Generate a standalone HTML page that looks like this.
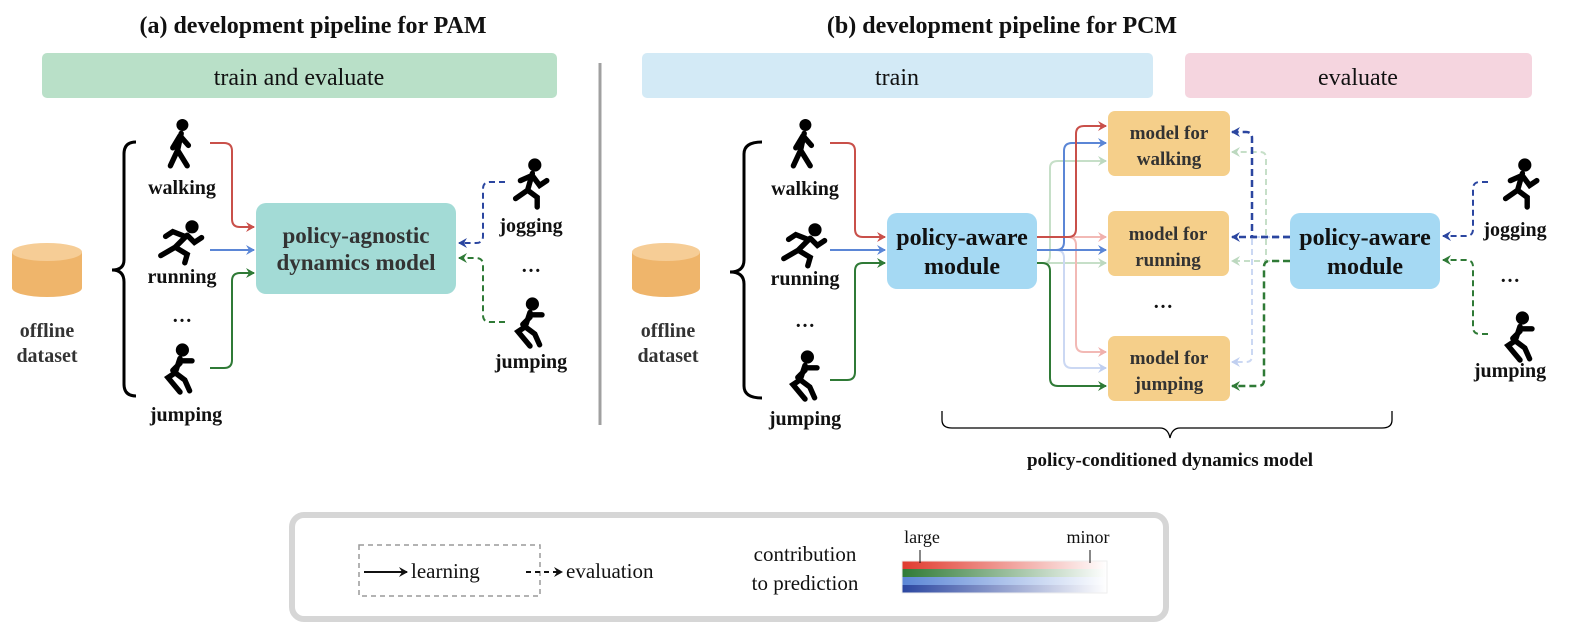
<!DOCTYPE html>
<html><head><meta charset="utf-8"><style>
html,body{margin:0;padding:0;background:#fff;}
svg{display:block;}
.t{font-family:"Liberation Serif",serif;font-weight:bold;fill:#111;}
.s{font-family:"Liberation Serif",serif;fill:#111;}
</style></head><body>
<svg width="1576" height="638" viewBox="0 0 1576 638" xmlns="http://www.w3.org/2000/svg">
<defs>
<marker id="ar" markerWidth="10" markerHeight="10" refX="8" refY="5" orient="auto" markerUnits="userSpaceOnUse"><path d="M0,0 L9,5 L0,10 L3,5z" fill="#c9504a"/></marker>
<marker id="ab" markerWidth="10" markerHeight="10" refX="8" refY="5" orient="auto" markerUnits="userSpaceOnUse"><path d="M0,0 L9,5 L0,10 L3,5z" fill="#5b86d6"/></marker>
<marker id="ag" markerWidth="10" markerHeight="10" refX="8" refY="5" orient="auto" markerUnits="userSpaceOnUse"><path d="M0,0 L9,5 L0,10 L3,5z" fill="#2f7a36"/></marker>
<marker id="adb" markerWidth="10" markerHeight="10" refX="8" refY="5" orient="auto" markerUnits="userSpaceOnUse"><path d="M0,0 L9,5 L0,10 L3,5z" fill="#2b46a0"/></marker>
<marker id="apr" markerWidth="10" markerHeight="10" refX="8" refY="5" orient="auto" markerUnits="userSpaceOnUse"><path d="M0,0 L9,5 L0,10 L3,5z" fill="#f0b0ac"/></marker>
<marker id="apb" markerWidth="10" markerHeight="10" refX="8" refY="5" orient="auto" markerUnits="userSpaceOnUse"><path d="M0,0 L9,5 L0,10 L3,5z" fill="#c0cff0"/></marker>
<marker id="apg" markerWidth="10" markerHeight="10" refX="8" refY="5" orient="auto" markerUnits="userSpaceOnUse"><path d="M0,0 L9,5 L0,10 L3,5z" fill="#bcd8bf"/></marker>
<marker id="ak" markerWidth="10" markerHeight="10" refX="8" refY="5" orient="auto" markerUnits="userSpaceOnUse"><path d="M0,0 L9,5 L0,10 L3,5z" fill="#111"/></marker>
<g id="walk" stroke="#000" stroke-width="4.5" stroke-linecap="round" fill="none" transform="scale(1.2)"><circle cx="2" cy="-15" r="5" fill="#000" stroke="none"/><path d="M1,-8 L-2,6 L-8,19 M-2,6 L6,19 M0,-6 L-6,4 M0,-6 L7,2"/></g>
<g id="run" stroke="#000" stroke-width="4.5" stroke-linecap="round" fill="none" transform="scale(1.2)"><circle cx="10" cy="-11" r="5.5" fill="#000" stroke="none"/><path d="M6,-4 L-4,6 L-16,13 M-4,6 L6,12 L4,19 M4,-3 L-6,-7 L-12,-3 M6,-4 L12,2 L18,-2"/></g>
<g id="jog" stroke="#000" stroke-width="4.5" stroke-linecap="round" fill="none" transform="scale(1.2)"><circle cx="4" cy="-15" r="5.5" fill="#000" stroke="none"/><path d="M2,-8 L-2,6 L-12,13 M-2,6 L6,12 L6,20 M1,-6 L-8,-2 M2,-6 L8,2 L14,-2"/></g>
<g id="jump" stroke="#000" stroke-width="4.5" stroke-linecap="round" fill="none" transform="scale(1.2)"><circle cx="2" cy="-15" r="5.5" fill="#000" stroke="none"/><path d="M0,-8 L-4,4 L-10,8 L0,20 M-4,4 L4,10 L8,19 M0,-6 L10,-6 M0,-4 L-6,2"/></g>
</defs>

<text class="t" x="313" y="33" font-size="24" text-anchor="middle">(a) development pipeline for PAM</text>
<text class="t" x="1002" y="33" font-size="24" text-anchor="middle">(b) development pipeline for PCM</text>

<rect x="42" y="53" width="515" height="45" rx="5" fill="#b9e0c8"/>
<text class="s" x="299" y="85" font-size="24" text-anchor="middle">train and evaluate</text>
<rect x="642" y="53" width="511" height="45" rx="5" fill="#d3eaf6"/>
<text class="s" x="897" y="85" font-size="24" text-anchor="middle">train</text>
<rect x="1185" y="53" width="347" height="45" rx="5" fill="#f5d5df"/>
<text class="s" x="1358" y="85" font-size="24" text-anchor="middle">evaluate</text>

<line x1="600" y1="63" x2="600" y2="425" stroke="#a0a0a0" stroke-width="3"/>

<!-- (a) -->
<g>
<path d="M12,252 L12,288 A35,9 0 0 0 82,288 L82,252z" fill="#efb56b"/>
<ellipse cx="47" cy="252" rx="35" ry="9" fill="#f6cd96"/>
<text class="t" x="47" y="337" font-size="20" text-anchor="middle" style="fill:#333">offline</text>
<text class="t" x="47" y="362" font-size="20" text-anchor="middle" style="fill:#333">dataset</text>
<path d="M136,142 Q124,142 124,154 L124,260 Q124,270 112,270 Q124,270 124,282 L124,384 Q124,396 136,396" fill="none" stroke="#000" stroke-width="3"/>
<use href="#walk" x="180" y="143"/>
<text class="t" x="182" y="194" font-size="20" text-anchor="middle">walking</text>
<use href="#run" x="180" y="240"/>
<text class="t" x="182" y="283" font-size="20" text-anchor="middle">running</text>
<text class="t" x="182" y="322" font-size="20" text-anchor="middle">…</text>
<use href="#jump" x="180" y="368"/>
<text class="t" x="186" y="421" font-size="20" text-anchor="middle">jumping</text>
<path d="M210,143 L224,143 Q232,143 232,151 L232,219 Q232,227 240,227 L254,227" fill="none" stroke="#c9504a" stroke-width="2" marker-end="url(#ar)"/>
<path d="M210,250 L254,250" fill="none" stroke="#5b86d6" stroke-width="2" marker-end="url(#ab)"/>
<path d="M210,368 L224,368 Q232,368 232,360 L232,281 Q232,273 240,273 L254,273" fill="none" stroke="#2f7a36" stroke-width="2" marker-end="url(#ag)"/>
<rect x="256" y="203" width="200" height="91" rx="10" fill="#a3dbd6"/>
<text class="t" x="356" y="243" font-size="23" text-anchor="middle" style="fill:#333">policy-agnostic</text>
<text class="t" x="356" y="270" font-size="23" text-anchor="middle" style="fill:#333">dynamics model</text>
<use href="#jog" x="530" y="183"/>
<text class="t" x="531" y="232" font-size="20" text-anchor="middle">jogging</text>
<text class="t" x="531" y="272" font-size="20" text-anchor="middle">…</text>
<use href="#jump" x="530" y="322"/>
<text class="t" x="531" y="368" font-size="20" text-anchor="middle">jumping</text>
<path d="M505,182 L490,182 Q483,182 483,189 L483,236 Q483,243 476,243 L459,243" fill="none" stroke="#2b46a0" stroke-width="2" stroke-dasharray="6,4" marker-end="url(#adb)"/>
<path d="M505,322 L490,322 Q483,322 483,315 L483,265 Q483,258 476,258 L459,258" fill="none" stroke="#2f7a36" stroke-width="2" stroke-dasharray="6,4" marker-end="url(#ag)"/>
</g>

<!-- (b) -->
<g>
<path d="M632,252 L632,288 A34,9 0 0 0 700,288 L700,252z" fill="#efb56b"/>
<ellipse cx="666" cy="252" rx="34" ry="9" fill="#f6cd96"/>
<text class="t" x="668" y="337" font-size="20" text-anchor="middle" style="fill:#333">offline</text>
<text class="t" x="668" y="362" font-size="20" text-anchor="middle" style="fill:#333">dataset</text>
<path d="M762,142 Q744,142 744,154 L744,260 Q744,272 730,272 Q744,272 744,284 L744,386 Q744,398 762,398" fill="none" stroke="#000" stroke-width="3"/>
<use href="#walk" x="803" y="143"/>
<text class="t" x="805" y="195" font-size="20" text-anchor="middle">walking</text>
<use href="#run" x="803" y="243"/>
<text class="t" x="805" y="285" font-size="20" text-anchor="middle">running</text>
<text class="t" x="805" y="327" font-size="20" text-anchor="middle">…</text>
<use href="#jump" x="805" y="375"/>
<text class="t" x="805" y="425" font-size="20" text-anchor="middle">jumping</text>
<path d="M830,143 L847,143 Q855,143 855,151 L855,229 Q855,237 863,237 L885,237" fill="none" stroke="#c9504a" stroke-width="2" marker-end="url(#ar)"/>
<path d="M830,250 L885,250" fill="none" stroke="#5b86d6" stroke-width="2" marker-end="url(#ab)"/>
<path d="M830,380 L847,380 Q855,380 855,372 L855,271 Q855,263 863,263 L885,263" fill="none" stroke="#2f7a36" stroke-width="2" marker-end="url(#ag)"/>

<!-- pale fan-out -->
<path d="M1037,263 L1044,263 Q1050,263 1050,255 L1050,168 Q1050,161 1058,161 L1106,161" fill="none" stroke="#c6dfc8" stroke-width="2" marker-end="url(#apg)"/>
<path d="M1037,263 L1106,263" fill="none" stroke="#c6dfc8" stroke-width="2" marker-end="url(#apg)"/>
<path d="M1037,250 L1056,250 Q1064,250 1064,258 L1064,360 Q1064,368 1072,368 L1106,368" fill="none" stroke="#cbd8f3" stroke-width="2" marker-end="url(#apb)"/>
<path d="M1037,237 L1068,237 Q1076,237 1076,245 L1076,344 Q1076,352 1084,352 L1106,352" fill="none" stroke="#f2b9b5" stroke-width="2" marker-end="url(#apr)"/>
<path d="M1037,237 L1106,237" fill="none" stroke="#f2b9b5" stroke-width="2" marker-end="url(#apr)"/>
<!-- strong -->
<path d="M1037,250 L1056,250 Q1064,250 1064,242 L1064,151 Q1064,143 1072,143 L1106,143" fill="none" stroke="#5b86d6" stroke-width="2" marker-end="url(#ab)"/>
<path d="M1037,250 L1106,250" fill="none" stroke="#5b86d6" stroke-width="2" marker-end="url(#ab)"/>
<path d="M1037,237 L1068,237 Q1076,237 1076,229 L1076,134 Q1076,126 1084,126 L1106,126" fill="none" stroke="#c9504a" stroke-width="2" marker-end="url(#ar)"/>
<path d="M1037,263 L1042,263 Q1050,263 1050,271 L1050,378 Q1050,386 1058,386 L1106,386" fill="none" stroke="#2f7a36" stroke-width="2" marker-end="url(#ag)"/>

<rect x="887" y="213" width="150" height="76" rx="10" fill="#a5d9f3"/>
<text class="t" x="962" y="245" font-size="24" text-anchor="middle">policy-aware</text>
<text class="t" x="962" y="274" font-size="24" text-anchor="middle">module</text>

<rect x="1108" y="111" width="122" height="65" rx="7" fill="#f5cf8a"/>
<text class="t" x="1169" y="139" font-size="19" text-anchor="middle" style="fill:#333">model for</text>
<text class="t" x="1169" y="165" font-size="19" text-anchor="middle" style="fill:#333">walking</text>
<rect x="1108" y="211" width="121" height="65" rx="7" fill="#f5cf8a"/>
<text class="t" x="1168" y="240" font-size="19" text-anchor="middle" style="fill:#333">model for</text>
<text class="t" x="1168" y="266" font-size="19" text-anchor="middle" style="fill:#333">running</text>
<text class="t" x="1163" y="308" font-size="20" text-anchor="middle">…</text>
<rect x="1108" y="336" width="122" height="65" rx="7" fill="#f5cf8a"/>
<text class="t" x="1169" y="364" font-size="19" text-anchor="middle" style="fill:#333">model for</text>
<text class="t" x="1169" y="390" font-size="19" text-anchor="middle" style="fill:#333">jumping</text>

<!-- dashed eval -->
<path d="M1290,261 L1266,261 L1266,158 Q1266,152 1260,152 L1232,152" fill="none" stroke="#c6dfc8" stroke-width="2" stroke-dasharray="6,4" marker-end="url(#apg)"/>
<path d="M1290,261 L1232,261" fill="none" stroke="#c6dfc8" stroke-width="2" stroke-dasharray="6,4" marker-end="url(#apg)"/>
<path d="M1290,237 L1252,237 L1252,356 Q1252,362 1246,362 L1232,362" fill="none" stroke="#cbd8f3" stroke-width="2" stroke-dasharray="6,4" marker-end="url(#apb)"/>
<path d="M1290,237 L1232,237" fill="none" stroke="#2b46a0" stroke-width="2.5" stroke-dasharray="7,4" marker-end="url(#adb)"/>
<path d="M1290,237 L1252,237 L1252,138 Q1252,132 1246,132 L1232,132" fill="none" stroke="#2b46a0" stroke-width="2.5" stroke-dasharray="7,4" marker-end="url(#adb)"/>
<path d="M1290,261 L1270,261 Q1264,261 1264,267 L1264,380 Q1264,386 1258,386 L1232,386" fill="none" stroke="#2f7a36" stroke-width="2.5" stroke-dasharray="7,4" marker-end="url(#ag)"/>

<rect x="1290" y="213" width="150" height="76" rx="10" fill="#a5d9f3"/>
<text class="t" x="1365" y="245" font-size="24" text-anchor="middle">policy-aware</text>
<text class="t" x="1365" y="274" font-size="24" text-anchor="middle">module</text>

<use href="#jog" x="1520" y="183"/>
<text class="t" x="1515" y="236" font-size="20" text-anchor="middle">jogging</text>
<text class="t" x="1510" y="282" font-size="20" text-anchor="middle">…</text>
<use href="#jump" x="1520" y="336"/>
<text class="t" x="1510" y="377" font-size="20" text-anchor="middle">jumping</text>
<path d="M1488,182 L1480,182 Q1473,182 1473,189 L1473,229 Q1473,236 1466,236 L1443,236" fill="none" stroke="#2b46a0" stroke-width="2" stroke-dasharray="6,4" marker-end="url(#adb)"/>
<path d="M1488,334 L1480,334 Q1473,334 1473,327 L1473,267 Q1473,260 1466,260 L1443,260" fill="none" stroke="#2f7a36" stroke-width="2" stroke-dasharray="6,4" marker-end="url(#ag)"/>

<path d="M942,411 L942,420 Q942,428 952,428 L1160,428 Q1168,428 1170,438 Q1172,428 1180,428 L1382,428 Q1392,428 1392,420 L1392,411" fill="none" stroke="#000" stroke-width="1.3"/>
<text class="t" x="1170" y="466" font-size="19" text-anchor="middle">policy-conditioned dynamics model</text>
</g>

<!-- legend -->
<rect x="292" y="515" width="874" height="104" rx="12" fill="#fff" stroke="#d6d6d6" stroke-width="6"/>
<rect x="359" y="545" width="181" height="51" fill="none" stroke="#9a9a9a" stroke-width="1.5" stroke-dasharray="5,4"/>
<path d="M364,572 L407,572" stroke="#111" stroke-width="2" marker-end="url(#ak)"/>
<text class="s" x="411" y="578" font-size="21">learning</text>
<path d="M526,572 L562,572" stroke="#111" stroke-width="2" stroke-dasharray="5,4" marker-end="url(#ak)"/>
<text class="s" x="566" y="578" font-size="21">evaluation</text>
<text class="s" x="805" y="561" font-size="21" text-anchor="middle">contribution</text>
<text class="s" x="805" y="590" font-size="21" text-anchor="middle">to prediction</text>
<linearGradient id="gr" x1="0" x2="1"><stop offset="0" stop-color="#e03a2e"/><stop offset="1" stop-color="#fff"/></linearGradient>
<linearGradient id="gg" x1="0" x2="1"><stop offset="0" stop-color="#2f7a36"/><stop offset="1" stop-color="#fff"/></linearGradient>
<linearGradient id="gb" x1="0" x2="1"><stop offset="0" stop-color="#5b86d6"/><stop offset="1" stop-color="#fff"/></linearGradient>
<linearGradient id="gd" x1="0" x2="1"><stop offset="0" stop-color="#2b46a0"/><stop offset="1" stop-color="#fff"/></linearGradient>
<rect x="902" y="561" width="205" height="8" fill="url(#gr)"/>
<rect x="902" y="569" width="205" height="8" fill="url(#gg)"/>
<rect x="902" y="577" width="205" height="8" fill="url(#gb)"/>
<rect x="902" y="585" width="205" height="8" fill="url(#gd)"/>
<rect x="902" y="561" width="205" height="32" fill="none" stroke="#eee" stroke-width="1"/>
<text class="s" x="922" y="543" font-size="18" text-anchor="middle">large</text>
<line x1="920" y1="550" x2="920" y2="563" stroke="#111" stroke-width="1"/>
<text class="s" x="1088" y="543" font-size="18" text-anchor="middle">minor</text>
<line x1="1090" y1="550" x2="1090" y2="563" stroke="#111" stroke-width="1"/>
</svg>
</body></html>
